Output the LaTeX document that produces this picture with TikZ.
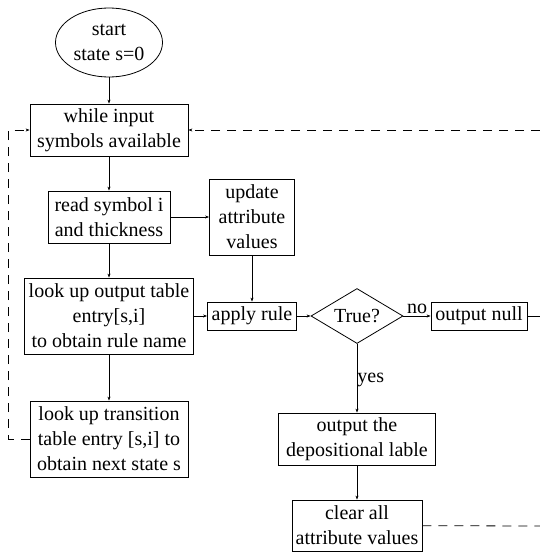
\documentclass[tikz,border=0pt]{standalone}
\usepackage{fontspec}
\setmainfont{LiberationSerif}[Extension=.ttf,UprightFont=*-Regular,BoldFont=*-Bold]
\usetikzlibrary{shapes.geometric,arrows.meta}
\begin{document}
\begin{tikzpicture}[x=1pt,y=-1pt,
  box/.style={draw,line width=0.8pt,inner sep=0pt,align=center,font=\fontsize{20}{25}\selectfont},
  flow/.style={line width=0.8pt,-{Stealth[length=4pt,width=3pt]}},
  back/.style={flow,dash pattern=on 9pt off 7pt},
  lbl/.style={inner sep=0pt,font=\fontsize{20}{25}\selectfont}]
\path[use as bounding box] (0,0) rectangle (540,552);
\path[fill=white] (0,0) rectangle (540,552);
% main column
\node[box,ellipse,minimum width=107pt,minimum height=69pt] (start) at (109,42.5) {start\\state s=0};
\node[box,minimum width=158pt,minimum height=52pt] (while) at (109,130) {while input\\symbols available};
\node[box,minimum width=122pt,minimum height=52pt] (read) at (109,217) {read symbol i\\and thickness};
\node[box,minimum width=169pt,minimum height=76pt] (outtab) at (109,316) {look up output table\\entry[s,i]\\to obtain rule name};
\node[box,minimum width=158pt,minimum height=76pt] (trans) at (109,439) {look up transition\\table entry [s,i] to\\obtain next state s};
% rule branch
\node[box,minimum width=85pt,minimum height=76pt] (update) at (252,217) {update\\attribute\\values};
\node[box,minimum width=89pt,minimum height=28pt] (apply) at (252,316) {apply rule};
\node[box,diamond,aspect=1.67,minimum width=92pt,minimum height=55pt] (test) at (357,316) {True?};
\node[box,minimum width=96pt,minimum height=28pt] (null) at (479,316) {output null};
\node[box,minimum width=157pt,minimum height=52pt] (depos) at (357,439) {output the\\depositional lable};
\node[box,minimum width=130pt,minimum height=51pt] (clear) at (357,525.5) {clear all\\attribute values};
% loose ends at the right border
\coordinate (rtop) at (540,130);
\coordinate (rmid) at (540,316);
\coordinate (rbot) at (540,526);
% connectors
\draw[flow] (start) -- (while);
\draw[flow] (while) -- (read);
\draw[flow] (read) -- (outtab);
\draw[flow] (outtab) -- (trans);
\draw[flow] (read) -- (update);
\draw[flow] (update) -- (apply);
\draw[flow] (outtab) -- (apply);
\draw[flow] (apply) -- (test);
\draw[flow] (test) -- node[lbl,above=2pt] {no} (null);
\draw[line width=0.8pt] (null) -- (rmid);
\draw[flow] (test) -- node[lbl,right,pos=0.52] {yes} (depos);
\draw[flow] (depos) -- (clear);
\draw[line width=0.8pt,dash pattern=on 9pt off 7pt] (clear) -- (rbot);
\draw[back] (rtop) -- (while);
\draw[back] (trans.west) -- ++(-21,0) |- (while.west);
\end{tikzpicture}
\end{document}
